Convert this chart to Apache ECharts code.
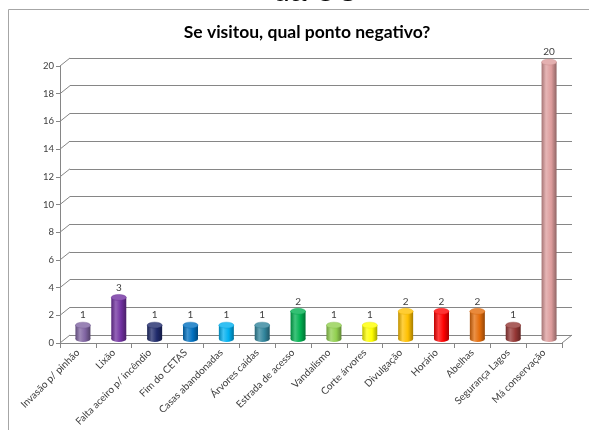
<!DOCTYPE html>
<html>
<head>
<meta charset="utf-8">
<script src="https://cdn.jsdelivr.net/npm/echarts@6/dist/echarts.min.js"></script>
<style>
  html, body { margin: 0; padding: 0; background: #fff; }
  #chart { width: 589px; height: 430px; }
</style>
</head>
<body>
<div id="chart"></div>
<script>
// Survey answers: negative points reported by visitors
const categories = [
  'Invasão p/ pinhão', 'Lixão', 'Falta aceiro p/ incêndio', 'Fim do CETAS',
  'Casas abandonadas', 'Árvores caídas', 'Estrada de acesso', 'Vandalismo',
  'Corte árvores', 'Divulgação', 'Horário', 'Abelhas', 'Segurança Lagos',
  'Má conservação'
];
const values = [1, 3, 1, 1, 1, 1, 2, 1, 1, 2, 2, 2, 1, 20];
const yTicks = [0, 2, 4, 6, 8, 10, 12, 14, 16, 18, 20];

const barColors = [
  '#8064a2', '#7030a0', '#1f2a6b', '#0070c0', '#00b0f0', '#31859c', '#00b050',
  '#92d050', '#ffff00', '#ffc000', '#ff0000', '#e46c0a', '#953735', '#dd9c9c'
];

function shade(hex, f) {
  const n = parseInt(hex.slice(1), 16);
  let r = (n >> 16) & 255, g = (n >> 8) & 255, b = n & 255;
  if (f < 0) { r *= (1 + f); g *= (1 + f); b *= (1 + f); }
  else { r += (255 - r) * f; g += (255 - g) * f; b += (255 - b) * f; }
  return 'rgb(' + Math.round(r) + ',' + Math.round(g) + ',' + Math.round(b) + ')';
}

function bodyGradient(c) {
  return new echarts.graphic.LinearGradient(0, 0, 1, 0, [
    { offset: 0, color: shade(c, -0.25) },
    { offset: 0.3, color: shade(c, 0.25) },
    { offset: 0.65, color: c },
    { offset: 1, color: shade(c, -0.35) }
  ]);
}

const DEPTH_X = 10, DEPTH_Y = -8;
const axisGray = '#868686';
const textGray = '#404040';
const font = 'Lato, "Liberation Sans", sans-serif';

// Cylinder bars
function renderCylinder(params, api) {
  const i = api.value(0);
  const v = api.value(1);
  const top = api.coord([i, v]);
  const base = api.coord([i, 0]);
  const w = 15, ry = 3;
  const c = barColors[i];
  return {
    type: 'group',
    children: [
      { type: 'circle', shape: { cx: 0, cy: 0, r: w / 2 }, x: top[0], y: base[1], scaleY: ry / (w / 2),
        style: { fill: bodyGradient(c) } },
      { type: 'rect', shape: { x: top[0] - w / 2, y: top[1], width: w, height: base[1] - top[1] },
        style: { fill: bodyGradient(c) } },
      { type: 'circle', shape: { cx: 0, cy: 0, r: w / 2 }, x: top[0], y: top[1], scaleY: ry / (w / 2),
        style: { fill: shade(c, 0.2), stroke: shade(c, -0.1), lineWidth: 0.6 } },
      { type: 'text', x: top[0], y: top[1] - ry - 2,
        style: { text: String(v), textAlign: 'center', textVerticalAlign: 'bottom',
                 font: '10px ' + font, fill: textGray } }
    ]
  };
}

// Diagonal links between the front axis and the back wall
function renderDepthLinks(params, api) {
  const v = api.value(0);
  const cs = params.coordSys;
  const y = api.coord([0, v])[1];
  const children = [
    { type: 'line', shape: { x1: cs.x, y1: y, x2: cs.x + DEPTH_X, y2: y + DEPTH_Y },
      style: { stroke: axisGray, lineWidth: 1 } }
  ];
  if (v === 0) {
    children.push({ type: 'line',
      shape: { x1: cs.x + cs.width, y1: y, x2: cs.x + cs.width + DEPTH_X, y2: y + DEPTH_Y },
      style: { stroke: axisGray, lineWidth: 1 } });
  }
  return { type: 'group', children };
}

const chart = echarts.init(document.getElementById('chart'), null, { renderer: 'canvas' });

chart.setOption({
  backgroundColor: '#ffffff',
  animation: false,
  title: {
    text: 'Se visitou, qual ponto negativo?',
    left: 302, top: 18, textAlign: 'center',
    textStyle: { fontFamily: font, fontSize: 17.5, fontWeight: 'bold', color: '#000' }
  },
  graphic: [
    { type: 'text', x: 273, y: 8, silent: true,
      style: { text: 'da UC', font: '30px "Liberation Sans", Arial, sans-serif', fill: '#000',
               textVerticalAlign: 'bottom' } },
    { type: 'rect', shape: { x: 8.5, y: 9.5, width: 620, height: 460 },
      style: { fill: 'none', stroke: '#a6a6a6', lineWidth: 1 }, silent: true }
  ],
  grid: [
    { left: 70, right: 17, top: 58, bottom: 95 },   // back wall
    { left: 65, right: 22, top: 62, bottom: 91 },   // bars
    { left: 60, right: 27, top: 66, bottom: 87 }    // front axes
  ],
  xAxis: [
    { gridIndex: 0, type: 'category', data: categories, show: false },
    { gridIndex: 1, type: 'category', data: categories, show: false },
    { gridIndex: 2, type: 'category', data: categories,
      axisLine: { show: true, lineStyle: { color: axisGray } },
      axisTick: { show: true, alignWithLabel: false, length: 5, lineStyle: { color: axisGray } },
      axisLabel: { rotate: 45, interval: 0, fontFamily: font, fontSize: 10, color: textGray, margin: 8 } }
  ],
  yAxis: [
    { gridIndex: 0, type: 'value', min: 0, max: 20, interval: 2,
      axisLine: { show: false }, axisTick: { show: false }, axisLabel: { show: false },
      splitLine: { show: true, lineStyle: { color: axisGray, width: 1 } } },
    { gridIndex: 1, type: 'value', min: 0, max: 20, interval: 2, show: false, splitLine: { show: false } },
    { gridIndex: 2, type: 'value', min: 0, max: 20, interval: 2,
      axisLine: { show: true, lineStyle: { color: axisGray } },
      axisTick: { show: true, length: 4, lineStyle: { color: axisGray } },
      axisLabel: { fontFamily: font, fontSize: 9.5, color: textGray, margin: 6 },
      splitLine: { show: false } }
  ],
  series: [
    { type: 'custom', xAxisIndex: 2, yAxisIndex: 2, renderItem: renderDepthLinks,
      data: yTicks.map(t => [t]), encode: { y: 0 }, silent: true, z: 1 },
    { type: 'custom', xAxisIndex: 1, yAxisIndex: 1, renderItem: renderCylinder,
      data: values.map((v, i) => [i, v]), encode: { x: 0, y: 1 }, z: 5 }
  ]
});
</script>
</body>
</html>
